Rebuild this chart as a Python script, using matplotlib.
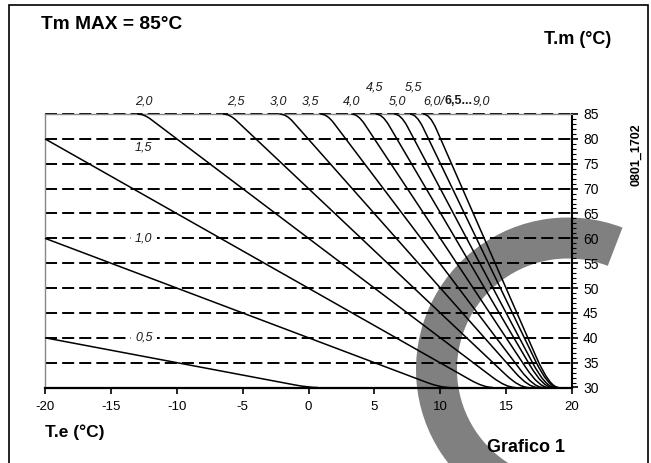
import matplotlib
matplotlib.use("Agg")
import matplotlib.pyplot as plt
from matplotlib.path import Path
from matplotlib.patches import PathPatch, Wedge, Rectangle
from matplotlib.transforms import IdentityTransform
from matplotlib.ticker import MultipleLocator

plt.rcParams['font.family'] = ['Liberation Sans', 'DejaVu Sans']

# ---------------- data ----------------
curve_names = ["0,5", "1,0", "1,5", "2,0", "2,5", "3,0", "3,5", "4,0", "4,5", "5,0", "5,5", "6,0"]
# start point of each curve (Te, Tm): either the left edge or the corner where it leaves 85
te_start = [-20.0, -20.0, -20.0, -12.5, -6.0, -1.7, 1.4, 3.75, 5.6, 7.0, 8.2, 9.2]
tm_start = [40.0, 60.0, 80.0, 85.0, 85.0, 85.0, 85.0, 85.0, 85.0, 85.0, 85.0, 85.0]
# Te where each curve reaches Tm = 30
te_end = [0.0, 10.0, 13.3, 15.0, 16.0, 16.7, 17.1, 17.5, 17.8, 18.0, 18.2, 18.3]

# curve labels (text, Te, Tm)
top_labels = ["2,0", "2,5", "3,0", "3,5", "4,0", "4,5", "5,0", "5,5"]
top_label_te = [-12.5, -5.55, -2.3, 0.15, 3.3, 5.0, 6.75, 8.0]
top_label_tm = [87.6, 87.6, 87.6, 87.6, 87.6, 90.4, 87.6, 90.4]
last_label_parts = ["6,0/", "6,5...", "9,0"]
last_label_te = 8.7
last_label_tm = 87.6
side_labels = ["1,5", "1,0", "0,5"]
side_label_te = [-12.5, -12.5, -12.5]
side_label_tm = [78.2, 60.0, 40.0]

x_ticks = [-20, -15, -10, -5, 0, 5, 10, 15, 20]
x_tick_labels = ["-20", "-15", "-10", "-5", "0", "5", "10", "15", "20"]
y_ticks = [30, 35, 40, 45, 50, 55, 60, 65, 70, 75, 80, 85]
y_tick_labels = ["30", "35", "40", "45", "50", "55", "60", "65", "70", "75", "80", "85"]
grid_levels = [35, 40, 45, 50, 55, 60, 65, 70, 75, 80, 85]

# ---------------- figure ----------------
W, H = 651, 463
fig = plt.figure(figsize=(W / 100, H / 100), dpi=100)
fig.patch.set_facecolor("white")

def fx(px):
    return px / W

def fy(py):
    return 1 - py / H

# gray ring segment (background watermark)
ring = Wedge((568, H - 369.5), 152, 69, 300, width=41, facecolor="#808080",
             edgecolor="none", transform=IdentityTransform(), zorder=-2)
fig.add_artist(ring)

# outer frame
frame = Rectangle((9, -10), 648 - 9, H - 5 + 10, fill=False, edgecolor="black",
                  lw=1.2, transform=IdentityTransform(), zorder=-1)
fig.add_artist(frame)

ax_left, ax_right, ax_top, ax_bottom = 45, 572, 114, 387.5
ax = fig.add_axes([fx(ax_left), fy(ax_bottom), (ax_right - ax_left) / W, (ax_bottom - ax_top) / H])
ax.patch.set_alpha(0)
ax.set_xlim(-20, 20)
ax.set_ylim(30, 85)

# dashed level lines
for lvl in grid_levels:
    ax.plot([-20, 20], [lvl, lvl], color="black", lw=1.4, dashes=(6.2, 2.6),
            solid_capstyle="butt", dash_capstyle="butt", zorder=2.5, clip_on=False)

# curves
r_top = 0.5
r_bot_in = 1.0
r_bot_out = 0.7
for ts, ms, te in zip(te_start, tm_start, te_end):
    slope = (ms - 30.0) / (te - ts)
    verts, codes = [], []
    if ms >= 85:
        verts += [(ts - r_top, 85), (ts, 85), (ts + r_top, 85 - slope * r_top)]
        codes += [Path.MOVETO, Path.CURVE3, Path.CURVE3]
    else:
        verts += [(ts, ms)]
        codes += [Path.MOVETO]
    verts += [(te - r_bot_in, 30 + slope * r_bot_in), (te, 30), (te + r_bot_out, 30)]
    codes += [Path.LINETO, Path.CURVE3, Path.CURVE3]
    ax.add_patch(PathPatch(Path(verts, codes), fill=False, edgecolor="black", lw=1.1,
                           zorder=3, clip_on=False))

# labels on curves
lab_fs = 9
lab_kw = dict(fontsize=lab_fs, style="italic", color="#1a1a1a", ha="center", va="center", zorder=5)
for t, x, y in zip(top_labels, top_label_te, top_label_tm):
    ax.text(x, y, t, clip_on=False, **lab_kw)
for t, x, y in zip(side_labels, side_label_te, side_label_tm):
    bb = dict(boxstyle="square,pad=0.35", fc="white", ec="none") if y in grid_levels else None
    ax.text(x, y, t, bbox=bb, **lab_kw)

t1 = ax.text(last_label_te, last_label_tm, last_label_parts[0], fontsize=lab_fs, style="italic",
             color="#1a1a1a", ha="left", va="center", clip_on=False)
t2 = ax.annotate(last_label_parts[1], xy=(1, 0), xycoords=t1, ha="left", va="bottom",
                 fontsize=lab_fs, fontweight="bold", color="#1a1a1a")
t3 = ax.annotate(last_label_parts[2], xy=(1, 0), xycoords=t2, ha="left", va="bottom",
                 fontsize=lab_fs, style="italic", color="#1a1a1a")

# axes styling
for side in ["left", "top"]:
    ax.spines[side].set_color("#888888")
    ax.spines[side].set_linewidth(1.0)
ax.spines["bottom"].set_color("black")
ax.spines["bottom"].set_linewidth(1.6)
ax.spines["right"].set_color("black")
ax.spines["right"].set_linewidth(1.5)
ax.spines["bottom"].set_zorder(4)

ax.yaxis.tick_right()
ax.set_yticks(y_ticks)
ax.set_yticklabels(y_tick_labels)
ax.yaxis.set_minor_locator(MultipleLocator(1))
ax.set_xticks(x_ticks)
ax.set_xticklabels(x_tick_labels)
ax.tick_params(axis="y", which="major", direction="out", length=4, width=1.2,
               labelsize=10, pad=4, right=True, left=False)
ax.tick_params(axis="y", which="minor", direction="out", length=3, width=0.8,
               right=True, left=False)
ax.tick_params(axis="x", which="major", direction="out", length=4, width=1.2,
               labelsize=9.5, pad=6, top=False)

# free texts
fig.text(fx(41), fy(29), "Tm MAX = 85°C", fontsize=13.8, fontweight="bold", ha="left", va="baseline")
fig.text(fx(611), fy(44), "T.m (°C)", fontsize=13, fontweight="bold", ha="right", va="baseline")
fig.text(fx(45), fy(437), "T.e (°C)", fontsize=12.5, fontweight="bold", ha="left", va="baseline")
fig.text(fx(487), fy(452), "Grafico 1", fontsize=13, fontweight="bold", ha="left", va="baseline")
fig.text(fx(636), fy(155), "0801_1702", fontsize=9, fontweight="bold", rotation=90,
         ha="center", va="center")

fig.savefig("out.png", dpi=100)
